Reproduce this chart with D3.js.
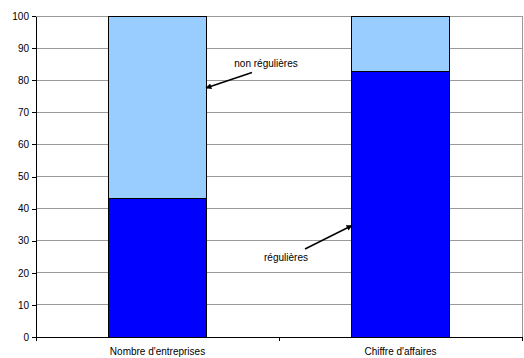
<!DOCTYPE html>
<html>
<head>
<meta charset="utf-8">
<script src="https://cdn.jsdelivr.net/npm/d3@7"></script>
<style>
  body { margin: 0; background: #fff; }
  svg { display: block; font-family: "Liberation Sans", Arial, sans-serif; }
</style>
</head>
<body>
<svg id="chart" width="524" height="358"></svg>
<script>
// Share of firms and turnover, regular vs non-regular (percent)
const categories = ["Nombre d'entreprises", "Chiffre d'affaires"];
const regulieres = [43, 82.8];
const nonRegulieres = [57, 17.2];
const yTicks = [0, 10, 20, 30, 40, 50, 60, 70, 80, 90, 100];

const svg = d3.select("#chart");
const margin = { top: 16, right: 2, bottom: 21, left: 36 };
const W = 524, H = 358;

const x = d3.scaleBand().domain(categories)
  .range([margin.left, W - margin.right]).paddingInner(0).paddingOuter(0);
const y = d3.scaleLinear().domain([0, 100]).range([H - margin.bottom, margin.top]);

// horizontal gridlines
svg.append("g").selectAll("line").data(yTicks.filter(d => d > 0)).join("line")
  .attr("x1", margin.left).attr("x2", W - margin.right)
  .attr("y1", d => y(d)).attr("y2", d => y(d))
  .attr("stroke", "#999").attr("stroke-width", 1)
  .attr("shape-rendering", "crispEdges");

// right edge of plot area
svg.append("line")
  .attr("x1", W - margin.right).attr("x2", W - margin.right)
  .attr("y1", y(100)).attr("y2", y(0))
  .attr("stroke", "#999").attr("shape-rendering", "crispEdges");

// stacked bars
const barW = x.bandwidth() * 0.4;
const stack = categories.map((c, i) => ({ c, reg: regulieres[i], non: nonRegulieres[i] }));
const bars = svg.append("g");
stack.forEach(d => {
  const bx = x(d.c) + (x.bandwidth() - barW) / 2;
  bars.append("rect")
    .attr("x", bx).attr("width", barW)
    .attr("y", y(d.reg)).attr("height", y(0) - y(d.reg))
    .attr("fill", "#0000ff").attr("stroke", "#000").attr("stroke-width", 1)
    .attr("shape-rendering", "crispEdges");
  bars.append("rect")
    .attr("x", bx).attr("width", barW)
    .attr("y", y(d.reg + d.non)).attr("height", y(d.reg) - y(d.reg + d.non))
    .attr("fill", "#99ccff").attr("stroke", "#000").attr("stroke-width", 1)
    .attr("shape-rendering", "crispEdges");
});

// y axis
const yAxis = svg.append("g")
  .attr("transform", `translate(${margin.left},0)`)
  .call(d3.axisLeft(y).tickValues(yTicks).tickSize(4).tickPadding(3).tickSizeOuter(0));
yAxis.selectAll("text").attr("font-size", 10).attr("fill", "#000")
  .attr("font-family", "Liberation Sans, Arial, sans-serif");
yAxis.selectAll("line,path").attr("stroke", "#000").attr("shape-rendering", "crispEdges");

// x axis with ticks at category boundaries
const xAxisG = svg.append("g").attr("transform", `translate(0,${y(0)})`);
xAxisG.append("line").attr("x1", margin.left).attr("x2", W - margin.right)
  .attr("stroke", "#000").attr("shape-rendering", "crispEdges");
const bounds = [x(categories[0]), x(categories[1]), x(categories[1]) + x.bandwidth()];
xAxisG.selectAll("line.tick").data(bounds).join("line")
  .attr("class", "tick")
  .attr("x1", d => d).attr("x2", d => d).attr("y1", 0).attr("y2", 4)
  .attr("stroke", "#000").attr("shape-rendering", "crispEdges");
xAxisG.selectAll("text").data(categories).join("text")
  .attr("x", d => x(d) + x.bandwidth() / 2).attr("y", 18)
  .attr("text-anchor", "middle").attr("font-size", 10).attr("fill", "#000")
  .text(d => d);

// annotations with arrows
const defs = svg.append("defs");
defs.append("marker").attr("id", "arrow").attr("viewBox", "0 0 10 10")
  .attr("refX", 9).attr("refY", 5).attr("markerWidth", 4).attr("markerHeight", 4)
  .attr("orient", "auto")
  .append("path").attr("d", "M0,0 L10,5 L0,10 z").attr("fill", "#000");

const notes = [
  { text: "non régulières", tx: 266, ty: 67, x1: 252, y1: 72.5, x2: 206, y2: 88 },
  { text: "régulières", tx: 286, ty: 261, x1: 305, y1: 249, x2: 352, y2: 225.5 }
];
notes.forEach(n => {
  svg.append("text").attr("x", n.tx).attr("y", n.ty).attr("text-anchor", "middle")
    .attr("font-size", 10).attr("fill", "#000").text(n.text);
  svg.append("line").attr("x1", n.x1).attr("y1", n.y1).attr("x2", n.x2).attr("y2", n.y2)
    .attr("stroke", "#000").attr("stroke-width", 1.5).attr("marker-end", "url(#arrow)");
});
</script>
</body>
</html>
